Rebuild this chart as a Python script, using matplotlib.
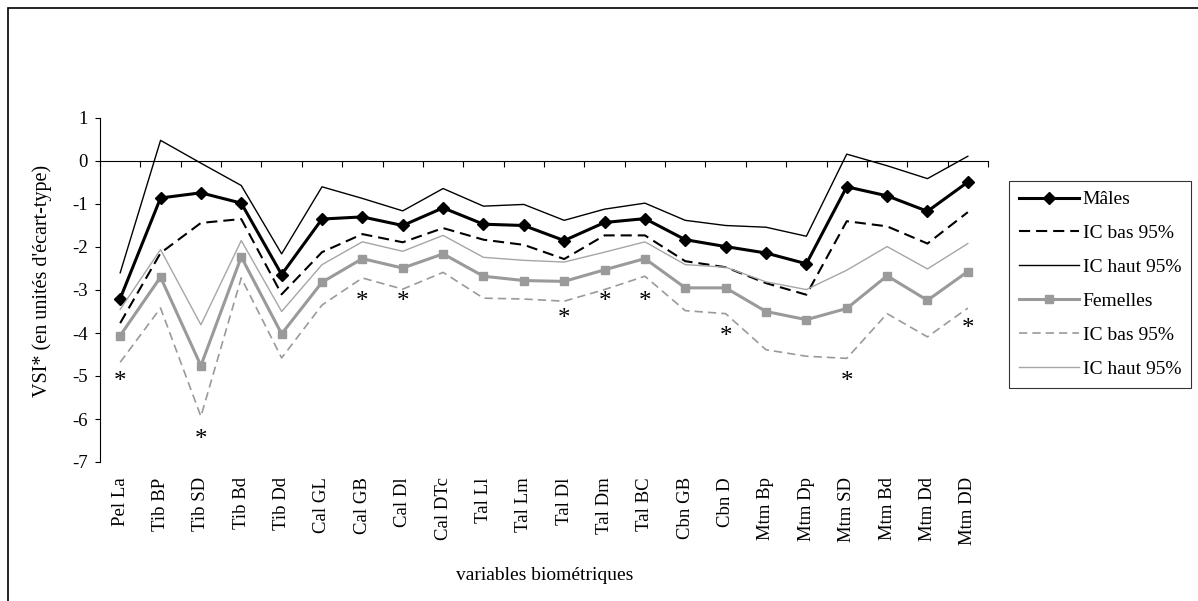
import numpy as np
import matplotlib
matplotlib.use("Agg")
import matplotlib.pyplot as plt
from matplotlib.patches import Rectangle

plt.rcParams['font.family'] = ['Liberation Serif', 'DejaVu Serif']
plt.rcParams['axes.unicode_minus'] = False
plt.rcParams['lines.scale_dashes'] = False

variables = ["Pel La", "Tib BP", "Tib SD", "Tib Bd", "Tib Dd", "Cal GL", "Cal GB",
             "Cal Dl", "Cal DTc", "Tal Ll", "Tal Lm", "Tal Dl", "Tal Dm", "Tal BC",
             "Cbn GB", "Cbn D", "Mtm Bp", "Mtm Dp", "Mtm SD", "Mtm Bd", "Mtm Dd", "Mtm DD"]

males = [-3.20, -0.86, -0.74, -0.98, -2.64, -1.35, -1.30, -1.50, -1.09, -1.47, -1.50,
         -1.85, -1.43, -1.34, -1.83, -1.99, -2.14, -2.39, -0.60, -0.81, -1.17, -0.49]
males_low = [-3.77, -2.14, -1.44, -1.35, -3.10, -2.12, -1.70, -1.89, -1.56, -1.83, -1.95,
             -2.28, -1.73, -1.73, -2.33, -2.47, -2.84, -3.11, -1.40, -1.52, -1.92, -1.19]
males_high = [-2.60, 0.48, -0.05, -0.57, -2.16, -0.60, -0.87, -1.16, -0.64, -1.05, -1.01,
              -1.38, -1.12, -0.98, -1.38, -1.50, -1.54, -1.75, 0.16, -0.11, -0.41, 0.11]

females = [-4.06, -2.70, -4.76, -2.23, -4.02, -2.82, -2.27, -2.49, -2.16, -2.68, -2.78,
           -2.80, -2.53, -2.27, -2.95, -2.95, -3.50, -3.69, -3.43, -2.67, -3.24, -2.57]
females_low = [-4.68, -3.42, -5.94, -2.72, -4.58, -3.35, -2.72, -2.98, -2.59, -3.19, -3.21,
               -3.26, -2.99, -2.68, -3.48, -3.55, -4.39, -4.54, -4.59, -3.55, -4.09, -3.42]
females_high = [-3.45, -2.06, -3.81, -1.85, -3.50, -2.41, -1.88, -2.10, -1.73, -2.24, -2.31,
                -2.35, -2.12, -1.88, -2.41, -2.47, -2.81, -2.99, -2.54, -1.99, -2.51, -1.92]

# significant differences, marked with an asterisk
star_idx = [0, 2, 6, 7, 11, 12, 13, 15, 18, 21]
star_y = [-4.97, -6.30, -3.11, -3.11, -3.50, -3.10, -3.10, -3.91, -4.97, -3.74]

yticks = list(range(-7, 2))

black = "#000000"
grey = "#9a9a9a"

fig = plt.figure(figsize=(11.98, 6.01), dpi=100)
ax = fig.add_axes([100 / 1198, 1 - 462 / 601, 888 / 1198, 344 / 601])

x = np.arange(len(variables))

ax.plot(x, males, color=black, lw=2.2, marker="D", ms=6.5, label="Mâles", zorder=3)
ax.plot(x, males_low, color=black, lw=1.5, ls=(0, (8, 4.3)), label="IC bas 95%", zorder=3)
ax.plot(x, males_high, color=black, lw=1.0, label="IC haut 95%", zorder=3)
ax.plot(x, females, color=grey, lw=2.2, marker="s", ms=6, label="Femelles", zorder=4)
ax.plot(x, females_low, color=grey, lw=1.2, ls=(0, (6, 3.6)), label="IC bas 95%", zorder=4)
ax.plot(x, females_high, color="#a6a6a6", lw=1.0, label="IC haut 95%", zorder=4)

for i, y in zip(star_idx, star_y):
    ax.annotate("*", (i, y), xytext=(0, -9.8), textcoords="offset points",
                ha="center", va="baseline", fontsize=18)

ax.set_xlim(-0.5, len(variables) - 0.5)
ax.set_ylim(-7, 1)

ax.spines["top"].set_visible(False)
ax.spines["right"].set_visible(False)
ax.spines["bottom"].set_position(("data", 0))
for s in ("left", "bottom"):
    ax.spines[s].set_linewidth(0.8)

ax.set_xticks(np.arange(-0.5, len(variables), 1))
ax.tick_params(axis="x", direction="out", length=4.5, width=0.8, labelbottom=False)
ax.set_yticks(yticks)
ax.set_yticklabels([str(t) for t in yticks])
ax.tick_params(axis="y", direction="out", length=3.6, width=0.8, pad=5, labelsize=13.5)

for i, name in enumerate(variables):
    ax.annotate(name, (i, -7), xytext=(0, -11), textcoords="offset points",
                rotation=90, ha="center", va="top", fontsize=13.5)

fig.text(545 / 1198, 1 - 575 / 601, "variables biométriques", ha="center", va="center",
         fontsize=14)
fig.text(42 / 1198, 1 - 281 / 601, "VSI* (en unités d'écart-type)", rotation=90,
         ha="center", va="center", fontsize=14.5)

leg = fig.legend(loc="upper left", bbox_to_anchor=(1009 / 1198, 1 - 181 / 601),
                 borderaxespad=0, frameon=True, fancybox=False, numpoints=1,
                 handlelength=3.1, handletextpad=0.2, borderpad=0.5,
                 labelspacing=0.84, fontsize=14)
leg.get_frame().set_edgecolor("black")
leg.get_frame().set_linewidth(0.8)

# chart area border
fig.patches.append(Rectangle((7.5 / 1198, -0.05), 1.2, 1.05 - 8 / 601,
                             transform=fig.transFigure, fill=False,
                             edgecolor="black", lw=1.2))

fig.savefig("out.png", dpi=100)
